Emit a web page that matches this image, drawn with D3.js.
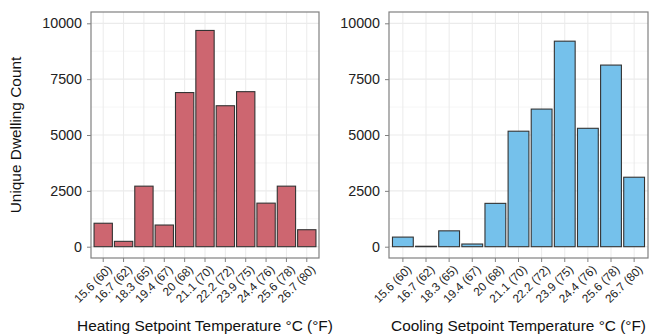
<!DOCTYPE html>
<html>
<head>
<meta charset="utf-8">
<script src="https://cdn.jsdelivr.net/npm/d3@7"></script>
<style>
  body { margin: 0; background: #fff; }
  text { font-family: "Liberation Sans", Arial, sans-serif; }
</style>
</head>
<body>
<svg id="chart" width="649" height="335"></svg>
<script>
const categories = ["15.6 (60)", "16.7 (62)", "18.3 (65)", "19.4 (67)", "20 (68)", "21.1 (70)",
    "22.2 (72)", "23.9 (75)", "24.4 (76)", "25.6 (78)", "26.7 (80)"]
const heatingCounts = [1050, 240, 2710, 970, 6900, 9680, 6310, 6940, 1950, 2710, 760]
const coolingCounts = [430, 20, 710, 120, 1940, 5170, 6160, 9200, 5300, 8130, 3110]
const yTicks = [0, 2500, 5000, 7500, 10000]

const svg = d3.select("#chart")
const plotTop = 12, plotBottom = 258
const yZero = 246.7, yMax = 23.3

const y = d3.scaleLinear()
    .domain([0, 10000])
    .range([yZero, yMax])

function panel(left, right, values, fill, title) {
    const n = categories.length
    const step = (right - left) / (n - 1 + 1.2)
    const x = d3.scaleBand()
        .domain(categories)
        .range([left + 0.6 * step - step / 2, right - 0.6 * step + step / 2])
        .paddingInner(0.1)
        .paddingOuter(0.05)
    const cx = d => x(d) + x.bandwidth() / 2

    const g = svg.append("g")

    // grid
    g.append("g")
        .selectAll("line")
        .data(categories)
        .join("line")
        .attr("x1", cx).attr("x2", cx)
        .attr("y1", plotTop).attr("y2", plotBottom)
        .attr("stroke", "#ebebeb")
    g.append("g")
        .selectAll("line")
        .data(d3.range(0, 10001, 1250))
        .join("line")
        .attr("x1", left).attr("x2", right)
        .attr("y1", d => y(d)).attr("y2", d => y(d))
        .attr("stroke", "#ebebeb")
        .attr("stroke-width", d => d % 2500 === 0 ? 1.2 : 0.5)

    // bars
    g.append("g")
        .attr("fill", fill)
        .attr("stroke", "#333")
        .attr("stroke-width", 1.1)
        .selectAll("rect")
        .data(values)
        .join("rect")
        .attr("x", (d, i) => x(categories[i]))
        .attr("y", d => y(d))
        .attr("width", x.bandwidth())
        .attr("height", d => y(0) - y(d))

    // border
    g.append("rect")
        .attr("x", left).attr("y", plotTop)
        .attr("width", right - left).attr("height", plotBottom - plotTop)
        .attr("fill", "none")
        .attr("stroke", "#808080")
        .attr("stroke-width", 1.2)

    // y axis
    const ya = g.append("g")
        .attr("transform", `translate(${left},0)`)
        .call(d3.axisLeft(y).tickValues(yTicks).tickFormat(d3.format("d")).tickSize(4).tickPadding(5))
    ya.select(".domain").remove()
    ya.selectAll(".tick line").attr("stroke", "#808080")
    ya.selectAll(".tick text").attr("fill", "#222").attr("font-size", 14.3)

    // x axis
    const xa = g.append("g")
        .attr("transform", `translate(0,${plotBottom})`)
        .call(d3.axisBottom(x).tickSize(4).tickPadding(2))
    xa.select(".domain").remove()
    xa.selectAll(".tick line").attr("stroke", "#808080")
    xa.selectAll(".tick text")
        .attr("fill", "#222")
        .attr("font-size", 11.8)
        .attr("text-anchor", "end")
        .attr("dy", null)
        .attr("y", 0)
        .attr("transform", "translate(3,6) rotate(-45)")
        .attr("dominant-baseline", "hanging")

    g.append("text")
        .attr("x", (left + right) / 2)
        .attr("y", 331)
        .attr("text-anchor", "middle")
        .attr("font-size", 15.4)
        .attr("fill", "#111")
        .text(title)
}

panel(91, 319, heatingCounts, "#cd6670", "Heating Setpoint Temperature °C (°F)")
panel(389, 648, coolingCounts, "#75c1eb", "Cooling Setpoint Temperature °C (°F)")

svg.append("text")
    .attr("transform", "translate(21,135) rotate(-90)")
    .attr("text-anchor", "middle")
    .attr("font-size", 15.4)
    .attr("fill", "#111")
    .text("Unique Dwelling Count")
</script>
</body>
</html>
